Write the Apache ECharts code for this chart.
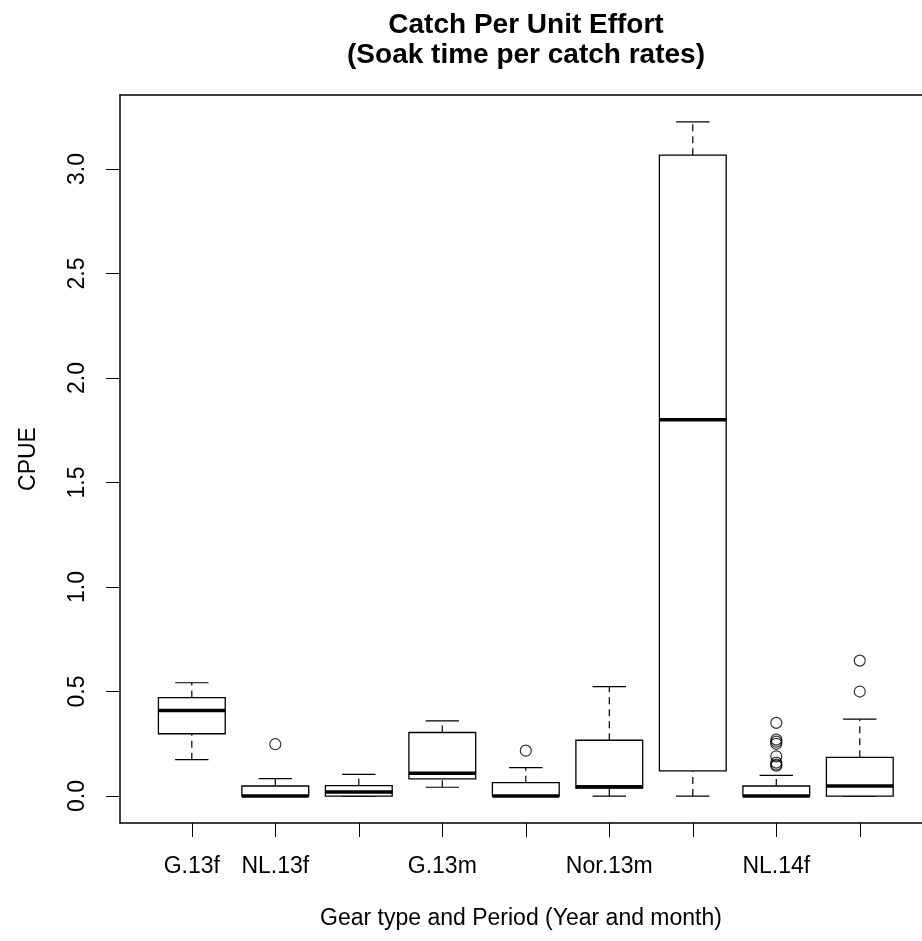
<!DOCTYPE html>
<html>
<head>
<meta charset="UTF-8">
<title>Catch Per Unit Effort</title>
<script src="https://cdn.jsdelivr.net/npm/echarts@6/dist/echarts.min.js"></script>
<style>
  html, body { margin: 0; padding: 0; background: #fff; }
  #chart { width: 922px; height: 941px; }
</style>
</head>
<body>
<div id="chart"></div>
<script>
// box positions 1..9, only some labels are printed on the axis
var tickLabels = ['G.13f', 'NL.13f', '', 'G.13m', '', 'Nor.13m', '', 'NL.14f', ''];
var whiskerLow  = [0.174, 0, 0, 0.042, 0, 0, 0, 0, 0];
var q1          = [0.298, 0, 0, 0.082, 0, 0.038, 0.12, 0, 0];
var median      = [0.409, 0, 0.019, 0.109, 0, 0.045, 1.80, 0, 0.048];
var q3          = [0.471, 0.048, 0.050, 0.304, 0.064, 0.267, 3.066, 0.048, 0.185];
var whiskerHigh = [0.542, 0.083, 0.104, 0.360, 0.136, 0.523, 3.225, 0.099, 0.368];
var outliers = [
  [], [0.248], [], [], [0.217], [], [],
  [0.35, 0.27, 0.26, 0.25, 0.19, 0.16, 0.15, 0.145],
  [0.50, 0.648]
];
var yTicks = [0, 0.5, 1, 1.5, 2, 2.5, 3];

var boxData = tickLabels.map(function (t, i) {
  return [i + 1, whiskerLow[i], q1[i], median[i], q3[i], whiskerHigh[i]];
});
var outlierData = [];
outliers.forEach(function (list, i) {
  list.forEach(function (v) { outlierData.push([i + 1, v]); });
});

var chart = echarts.init(document.getElementById('chart'));

function renderBox(params, api) {
  var x = api.value(0);
  var lo = api.coord([x, api.value(1)]);
  var b1 = api.coord([x, api.value(2)]);
  var md = api.coord([x, api.value(3)]);
  var b3 = api.coord([x, api.value(4)]);
  var hi = api.coord([x, api.value(5)]);
  var boxW = api.size([0.8, 0])[0];
  var capW = api.size([0.4, 0])[0];
  var cx = lo[0];
  var line = { stroke: '#000', lineWidth: 1.2 };
  var dash = { stroke: '#000', lineWidth: 1.2, lineDash: [7, 5] };
  return {
    type: 'group',
    children: [
      { type: 'line', shape: { x1: cx, y1: lo[1], x2: cx, y2: b1[1] }, style: dash },
      { type: 'line', shape: { x1: cx, y1: b3[1], x2: cx, y2: hi[1] }, style: dash },
      { type: 'line', shape: { x1: cx - capW / 2, y1: lo[1], x2: cx + capW / 2, y2: lo[1] }, style: line },
      { type: 'line', shape: { x1: cx - capW / 2, y1: hi[1], x2: cx + capW / 2, y2: hi[1] }, style: line },
      { type: 'rect', shape: { x: cx - boxW / 2, y: b3[1], width: boxW, height: b1[1] - b3[1] },
        style: { fill: '#fff', stroke: '#000', lineWidth: 1.3 } },
      { type: 'line', shape: { x1: cx - boxW / 2, y1: md[1], x2: cx + boxW / 2, y2: md[1] },
        style: { stroke: '#000', lineWidth: 3.5 } }
    ]
  };
}

var frameLine = { color: '#000', width: 1.5 };

var option = {
  backgroundColor: '#fff',
  animation: false,
  textStyle: { fontFamily: 'Liberation Sans, Arial, sans-serif', color: '#000' },
  title: {
    text: 'Catch Per Unit Effort\n(Soak time per catch rates)',
    left: 526,
    top: 10,
    padding: 0,
    textAlign: 'center',
    textStyle: { fontSize: 28, fontWeight: 'bold', lineHeight: 30, color: '#000',
      fontFamily: 'Liberation Sans, Arial, sans-serif' }
  },
  grid: {
    left: 120, top: 95, right: 0, bottom: 118,
    show: false
  },
  xAxis: [{
    type: 'value',
    position: 'bottom',
    min: 0.14, max: 9.745,
    name: 'Gear type and Period (Year and month)',
    nameLocation: 'middle',
    nameGap: 84,
    nameTextStyle: { fontSize: 23, color: '#000', lineHeight: 23 },
    splitLine: { show: false },
    axisLine: { show: true, onZero: false, lineStyle: frameLine },
    axisTick: { show: true, length: 14, customValues: [1, 2, 3, 4, 5, 6, 7, 8, 9],
      lineStyle: { color: '#000', width: 1 } },
    axisLabel: {
      customValues: [1, 2, 4, 6, 8],
      fontSize: 23, lineHeight: 23, color: '#000', margin: 32,
      formatter: function (v) { return tickLabels[Math.round(v) - 1]; }
    }
  }, {
    // top edge of the plot frame
    type: 'value',
    position: 'top',
    min: 0.14, max: 9.745,
    splitLine: { show: false },
    axisLine: { show: true, onZero: false, lineStyle: frameLine },
    axisTick: { show: false },
    axisLabel: { show: false }
  }],
  yAxis: {
    type: 'value',
    min: -0.129, max: 3.354,
    name: 'CPUE',
    nameLocation: 'middle',
    nameGap: 80,
    nameRotate: 90,
    nameTextStyle: { fontSize: 23, color: '#000', lineHeight: 23 },
    splitLine: { show: false },
    axisLine: { show: true, onZero: false, lineStyle: frameLine },
    axisTick: { show: true, length: 14, customValues: yTicks,
      lineStyle: { color: '#000', width: 1 } },
    axisLabel: {
      customValues: yTicks,
      rotate: 90,
      fontSize: 23, lineHeight: 23, color: '#000', margin: 31,
      formatter: function (v) { return v.toFixed(1); }
    }
  },
  series: [
    {
      type: 'custom',
      renderItem: renderBox,
      encode: { x: 0, y: [1, 2, 3, 4, 5] },
      data: boxData,
      clip: false,
      z: 2
    },
    {
      type: 'scatter',
      data: outlierData,
      symbol: 'circle',
      symbolSize: 11,
      itemStyle: { color: 'transparent', borderColor: '#000', borderWidth: 1.2 },
      z: 3
    }
  ]
};

chart.setOption(option);
</script>
</body>
</html>
